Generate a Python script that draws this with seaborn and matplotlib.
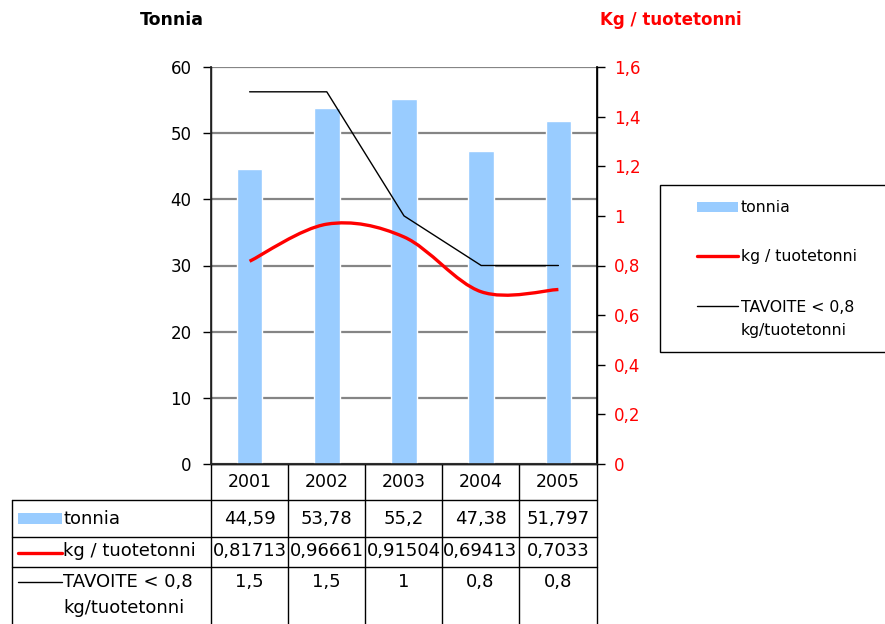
import matplotlib
matplotlib.use("Agg")
import matplotlib.pyplot as plt
import seaborn as sns
import pandas as pd
import numpy as np
from matplotlib.path import Path
from matplotlib.patches import PathPatch

years = ["2001", "2002", "2003", "2004", "2005"]
tonnia = [44.59, 53.78, 55.2, 47.38, 51.797]
kg_per_ton = [0.81713, 0.96661, 0.91504, 0.69413, 0.7033]
tavoite = [1.5, 1.5, 1.0, 0.8, 0.8]
left_ticks = [0, 10, 20, 30, 40, 50, 60]
right_ticks = [0, 0.2, 0.4, 0.6, 0.8, 1.0, 1.2, 1.4, 1.6]

BAR = "#99ccff"
RED = "#ff0000"
FONT = ["DejaVu Sans"]

sns.set_theme(style="white")
plt.rcParams["font.family"] = FONT
plt.rcParams["text.color"] = "black"
plt.rcParams["axes.labelcolor"] = "black"
plt.rcParams["xtick.color"] = "black"
plt.rcParams["ytick.color"] = "black"

W, H = 885, 624
fig = plt.figure(figsize=(W / 100, H / 100), dpi=100)
L, R, T, B = 211, 597, 67, 464
ax = fig.add_axes([L / W, 1 - B / H, (R - L) / W, (B - T) / H])

df = pd.DataFrame({"year": years, "tonnia": tonnia})
sns.barplot(data=df, x="year", y="tonnia", color=BAR, width=0.33, ax=ax,
            saturation=1, zorder=3)
ax.set_xlim(-0.5, 4.5)
ax.set_ylim(0, 60)
ax.set_yticks(left_ticks)
ax.set_yticklabels([str(t) for t in left_ticks], fontsize=12, color="black")
ax.set_xticks([])
ax.set_xlabel("")
ax.set_ylabel("")
ax.yaxis.grid(True, color="#858585", lw=1.6, zorder=0)
ax.set_axisbelow(True)
ax.spines["top"].set_visible(False)
for s in ["left", "bottom", "right"]:
    ax.spines[s].set_color("black")
    ax.spines[s].set_linewidth(1.0)
ax.tick_params(axis="y", direction="out", length=6, width=1, color="black",
               left=True, pad=8)

ax2 = ax.twinx()
ax2.set_ylim(0, 1.6)
ax2.set_yticks(right_ticks)
ax2.set_yticklabels([f"{t:g}".replace(".", ",") for t in right_ticks],
                    fontsize=12, color=RED)
ax2.tick_params(axis="y", direction="out", length=6, width=1, color="black",
                right=True, pad=6)
ax2.spines["top"].set_visible(False)
ax2.spines["right"].set_color("black")
ax2.grid(False)

# black target line
ax2.plot(range(len(years)), tavoite, color="black", lw=1.0, zorder=4)

# smoothed red line (Bezier through the data points)
xs = np.arange(len(years), dtype=float)
ys = np.array(kg_per_ton)
pts = np.column_stack([xs, ys])
verts = [pts[0]]
codes = [Path.MOVETO]
n = len(pts)
for i in range(n - 1):
    p0 = pts[i - 1] if i > 0 else pts[i]
    p1 = pts[i]
    p2 = pts[i + 1]
    p3 = pts[i + 2] if i + 2 < n else pts[i + 1]
    c1 = p1 + (p2 - p0) / 6
    c2 = p2 - (p3 - p1) / 6
    verts += [c1, c2, p2]
    codes += [Path.CURVE4] * 3
ax2.add_patch(PathPatch(Path(verts, codes), facecolor="none", edgecolor=RED,
                        lw=2.4, zorder=5))

# axis titles
fig.text(140 / W, 1 - 20 / H, "Tonnia", fontsize=12.5, fontweight="bold",
         color="black", va="center", ha="left")
fig.text(600 / W, 1 - 20 / H, "Kg / tuotetonni", fontsize=12,
         fontweight="bold", color=RED, va="center", ha="left")

# overlay axes in pixel coordinates for legend and data table
tab = fig.add_axes([0, 0, 1, 1], zorder=-1)
tab.set_xlim(0, W)
tab.set_ylim(H, 0)
tab.axis("off")

# legend box
lfs = 11.3
leg_ax = fig.add_axes([0, 0, 1, 1], zorder=10)
leg_ax.set_xlim(0, W)
leg_ax.set_ylim(H, 0)
leg_ax.axis("off")
leg_ax.add_patch(plt.Rectangle((660, 185), 240, 167, facecolor="white",
                               edgecolor="black", lw=1.0, clip_on=False))
leg_ax.add_patch(plt.Rectangle((697, 202), 41, 10, facecolor=BAR,
                               edgecolor="none"))
leg_ax.text(741, 207, "tonnia", ha="left", va="center", fontsize=lfs)
leg_ax.plot([697, 738], [256, 256], color=RED, lw=2.4)
leg_ax.text(741, 256, "kg / tuotetonni", ha="left", va="center", fontsize=lfs)
leg_ax.plot([697, 738], [306, 306], color="black", lw=1.0)
leg_ax.text(741, 307, "TAVOITE < 0,8", ha="left", va="center", fontsize=lfs)
leg_ax.text(741, 330, "kg/tuotetonni", ha="left", va="center", fontsize=lfs)

# data table
cols = [211, 288, 365, 442, 519, 597]
rows = [464, 500, 537, 567, 640]
lc = dict(color="black", lw=1.0)
for x in cols:
    tab.plot([x, x], [464, 640], **lc)
tab.plot([12, 12], [500, 640], **lc)
tab.plot([211, 597], [464, 464], **lc)
for y in rows[1:4]:
    tab.plot([12, 597], [y, y], **lc)

tfs = 13
centers = [(cols[i] + cols[i + 1]) / 2 for i in range(len(years))]
for c, yr in zip(centers, years):
    tab.text(c, 482, yr, ha="center", va="center", fontsize=12.5)


def fmt(v):
    return f"{v:g}".replace(".", ",")


for c, v in zip(centers, tonnia):
    tab.text(c, 519, fmt(v), ha="center", va="center", fontsize=tfs)
for c, v in zip(centers, kg_per_ton):
    tab.text(c, 551, fmt(v), ha="center", va="center", fontsize=tfs)
for c, v in zip(centers, tavoite):
    tab.text(c, 582, fmt(v), ha="center", va="center", fontsize=tfs)

tab.add_patch(plt.Rectangle((18, 513), 44, 11, facecolor=BAR, edgecolor="none"))
tab.text(63, 519, "tonnia", ha="left", va="center", fontsize=tfs)
tab.plot([18, 62], [553, 553], color=RED, lw=2.4)
tab.text(63, 551, "kg / tuotetonni", ha="left", va="center", fontsize=tfs)
tab.plot([18, 62], [582, 582], color="black", lw=1.0)
tab.text(63, 582, "TAVOITE < 0,8", ha="left", va="center", fontsize=tfs)
tab.text(63, 608, "kg/tuotetonni", ha="left", va="center", fontsize=tfs)

fig.savefig("out.png", dpi=100)
